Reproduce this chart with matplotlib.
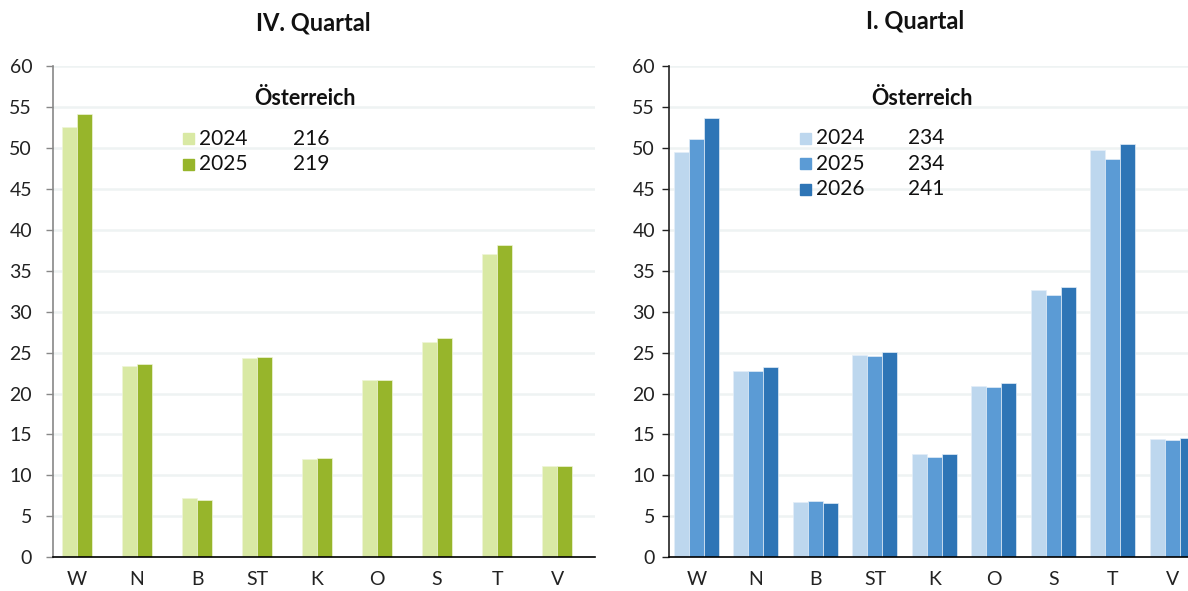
import matplotlib.pyplot as plt
from matplotlib.patches import Rectangle

plt.rcParams['font.family'] = ['Lato', 'DejaVu Sans']

regions = ['W', 'N', 'B', 'ST', 'K', 'O', 'S', 'T', 'V']

# IV. Quartal
q4_years = ['2024', '2025']
q4_2024 = [52.6, 23.4, 7.2, 24.3, 12.0, 21.7, 26.3, 37.1, 11.1]
q4_2025 = [54.1, 23.6, 7.0, 24.5, 12.1, 21.7, 26.8, 38.1, 11.2]
q4_total = [216, 219]

# I. Quartal
q1_years = ['2024', '2025', '2026']
q1_2024 = [49.5, 22.7, 6.8, 24.7, 12.6, 20.9, 32.6, 49.7, 14.4]
q1_2025 = [51.1, 22.8, 6.9, 24.6, 12.3, 20.8, 32.0, 48.7, 14.3]
q1_2026 = [53.6, 23.2, 6.6, 25.1, 12.6, 21.3, 33.0, 50.5, 14.6]
q1_total = [234, 234, 241]

green = ['#d9e9a4', '#97b52b']
blue = ['#bdd7ee', '#5b9bd5', '#2e75b6']

W, H = 1188, 591
fig = plt.figure(figsize=(W / 100, H / 100), dpi=100)


def px(x, y):
    return x / W, 1 - y / H


def style_axis(ax, spine_col, pad):
    ax.set_ylim(0, 60)
    ax.set_yticks(range(0, 61, 5))
    ax.set_xticks(range(len(regions)))
    ax.set_xticklabels(regions)
    ax.tick_params(axis='x', length=0, pad=10, labelsize=14, colors='#222222')
    ax.tick_params(axis='y', length=5, width=1, pad=pad, labelsize=14,
                   colors='#222222', color=spine_col)
    for s in ['top', 'right']:
        ax.spines[s].set_visible(False)
    ax.spines['left'].set_color(spine_col)
    ax.spines['left'].set_linewidth(1.2)
    ax.spines['bottom'].set_color('black')
    ax.spines['bottom'].set_linewidth(1.2)
    ax.grid(axis='y', color='#eef3f3', linewidth=1.8)
    ax.set_axisbelow(True)


bottom = 1 - 557.3 / H
height = (557.3 - 66) / H

# left chart
ax1 = fig.add_axes([53 / W, bottom, (595 - 53) / W, height])
xs = range(len(regions))
bw = 0.25
for k, (vals, c) in enumerate(zip([q4_2024, q4_2025], green)):
    ax1.bar([i + (k - 0.5) * bw for i in xs], vals, width=bw, color=c,
            edgecolor='#eef5d8', linewidth=0.5)
ax1.set_xlim(-0.4, 8.63)
style_axis(ax1, '#888888', 10)

# right chart
ax2 = fig.add_axes([669 / W, bottom, (1210 - 669) / W, height])
bw2 = 0.252
for k, (vals, c) in enumerate(zip([q1_2024, q1_2025, q1_2026], blue)):
    ax2.bar([i + (k - 1) * bw2 for i in xs], vals, width=bw2, color=c,
            edgecolor='#e3eef8', linewidth=0.5)
ax2.set_xlim(-0.46, 8.63)
style_axis(ax2, '#222222', 5)

# titles
fig.text(*px(313, 23), 'IV. Quartal', ha='center', va='center',
         fontsize=17, fontweight='bold', color='#111111')
fig.text(*px(915, 21), 'I. Quartal', ha='center', va='center',
         fontsize=17, fontweight='bold', color='#111111')

# legend blocks
def legend_block(cx, x_patch, x_year, x_num, y0, years, totals, colors):
    fig.text(*px(cx, 99), 'Österreich', ha='center', va='center',
             fontsize=15.5, fontweight='bold', color='#111111')
    for j, (yr, tot, c) in enumerate(zip(years, totals, colors)):
        yc = y0 + j * 25.5
        fx, fy = px(x_patch, yc + 5.5)
        fig.patches.append(Rectangle((fx, fy), 11 / W, 11 / H, color=c,
                                     transform=fig.transFigure))
        fig.text(*px(x_year, yc), yr, ha='left', va='center',
                 fontsize=15, color='#111111')
        fig.text(*px(x_num, yc), str(tot), ha='left', va='center',
                 fontsize=15, color='#111111')


legend_block(305, 183, 199, 293, 139, q4_years, q4_total, green)
legend_block(922, 800, 816, 908, 138, q1_years, q1_total, blue)

fig.savefig('out.png', dpi=100)
